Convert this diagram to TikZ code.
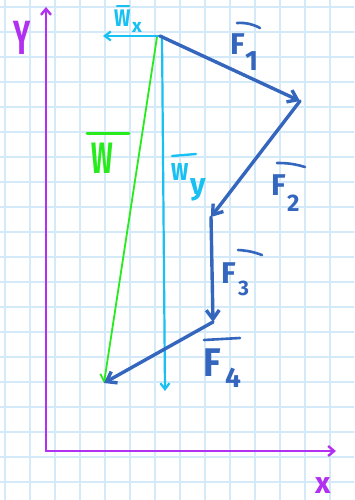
\documentclass[tikz,border=0pt]{standalone}
\usepackage{fontspec}
\usepackage{graphicx}
\setmainfont{Fira Sans}
\usetikzlibrary{arrows.meta}
\definecolor{vblue}{RGB}{52,102,190}
\definecolor{vgreen}{RGB}{40,235,30}
\definecolor{vcyan}{RGB}{25,192,242}
\definecolor{vpurple}{RGB}{178,48,240}
\definecolor{gridc}{RGB}{212,234,248}
\begin{document}
\begin{tikzpicture}[x=1pt,y=-1pt,
  line cap=round, line join=round,
  gridline/.style={draw=gridc, line width=1.2pt},
  bluevec/.style={draw=vblue, line width=3.4pt, -{Straight Barb[length=9pt,width=13pt]}},
  greenvec/.style={draw=vgreen, line width=1.8pt, -{Straight Barb[length=7pt,width=10pt]}},
  cyanvec/.style={draw=vcyan, line width=2.2pt, -{Straight Barb[length=6pt,width=9pt]}},
  axisvec/.style={draw=vpurple, line width=2.4pt, -{Straight Barb[length=6pt,width=10pt]}},
  lab/.style={inner sep=0pt, anchor=base west},
  bluebar/.style={draw=vblue, line width=2.6pt},
  greenbar/.style={draw=vgreen, line width=3pt},
  cyanbar/.style={draw=vcyan, line width=2.4pt}
]
\useasboundingbox (0,0) rectangle (354,500);
\fill[white] (0,0) rectangle (354,500);
% grid
\foreach \gx in {5,30,...,330} \draw[gridline] (\gx,0) -- (\gx,500);
\foreach \gy in {7,32,...,482} \draw[gridline] (0,\gy) -- (354,\gy);

% points
\coordinate (O) at (160,36);
\coordinate (Og) at (157,37);
\coordinate (Oy) at (162,36);
\coordinate (Wxe) at (103,36);
\coordinate (A) at (300,101);
\coordinate (B) at (211,217);
\coordinate (C) at (213,322);
\coordinate (D) at (104,383);
\coordinate (E) at (165,391);
\coordinate (ax0) at (46,451);
\coordinate (axy) at (46,7);
\coordinate (axx) at (336,451);

% axes
\draw[axisvec] (ax0) -- (axy);
\draw[axisvec] (ax0) -- (axx);

% components
\draw[greenvec] (Og) -- (D);
\draw[cyanvec] (Oy) -- (E);
\draw[cyanvec] (O) -- (Wxe);

% force polygon
\draw[bluevec] (O) -- (A);
\draw[bluevec] (A) -- (B);
\draw[bluevec] (B) -- (C);
\draw[bluevec] (C) -- (D);

% labels
\node[lab, text=vpurple, font=\bfseries\fontsize{48}{48}\selectfont] (Yl) at (13,55) {\scalebox{0.6}[1]{Y}};
\node[lab, text=vpurple, font=\bfseries\fontsize{30}{30}\selectfont] (xl) at (315,493) {x};

\node[lab, text=vcyan, font=\bfseries\fontsize{24}{24}\selectfont] (Wxl) at (114,27) {\scalebox{0.8}[1]{W}};
\node[lab, text=vcyan, font=\bfseries\fontsize{19}{19}\selectfont] (Wxs) at (132,33) {x};
\draw[cyanbar] (117,6) -- (129,6);

\node[lab, text=vgreen, font=\bfseries\fontsize{44}{44}\selectfont] (Wl) at (91,173) {\scalebox{0.58}[1]{W}};
\draw[greenbar] (87,133) -- (129,133);

\node[lab, text=vcyan, font=\bfseries\fontsize{32}{32}\selectfont] (Wyl) at (171,180) {\scalebox{0.72}[1]{w}};
\node[lab, text=vcyan, font=\bfseries\fontsize{30}{30}\selectfont] (Wys) at (190,194) {y};
\draw[cyanbar] (172,156) -- (196,154);

\node[lab, text=vblue, font=\bfseries\fontsize{30}{30}\selectfont] (F1l) at (230,55) {F};
\node[lab, text=vblue, font=\bfseries\fontsize{28}{28}\selectfont] (F1s) at (245,71) {1};
\draw[bluebar] (237,23) to[bend left=15] (260,28);

\node[lab, text=vblue, font=\bfseries\fontsize{30}{30}\selectfont] (F2l) at (271,195) {F};
\node[lab, text=vblue, font=\bfseries\fontsize{24}{24}\selectfont] (F2s) at (287,211) {2};
\draw[bluebar] (277,163) to[bend left=8] (305,167);

\node[lab, text=vblue, font=\bfseries\fontsize{30}{30}\selectfont] (F3l) at (221,283) {F};
\node[lab, text=vblue, font=\bfseries\fontsize{21}{21}\selectfont] (F3s) at (238,295) {3};
\draw[bluebar] (238,250) to[bend left=8] (262,255);

\node[lab, text=vblue, font=\bfseries\fontsize{40}{40}\selectfont] (F4l) at (203,376) {\scalebox{0.9}[1]{F}};
\node[lab, text=vblue, font=\bfseries\fontsize{28}{28}\selectfont] (F4s) at (225,387) {4};
\draw[bluebar] (204,340) -- (240,338);
\end{tikzpicture}
\end{document}
